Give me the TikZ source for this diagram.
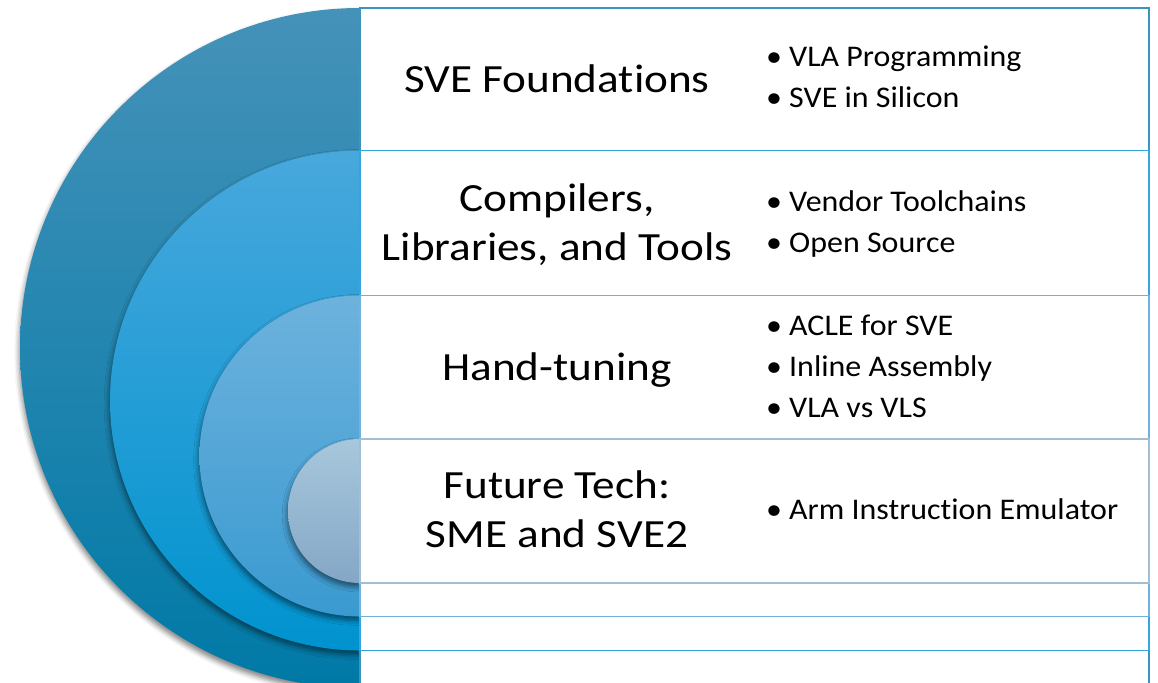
\documentclass[tikz,border=0pt]{standalone}
\usepackage{fontspec}
\setmainfont{Carlito}[Ligatures=NoCommon]
\newfontfamily\headfont{Carlito}[Ligatures=NoCommon, FakeStretch=1.13]
\newfontfamily\pointfont{Carlito}[Ligatures=NoCommon, FakeStretch=1.065]
\usetikzlibrary{shadows.blur}

% fills of the nested half discs (top / bottom of each gradient)
\definecolor{ringAtop}{HTML}{4592B9}
\definecolor{ringAbot}{HTML}{0079A6}
\definecolor{ringBtop}{HTML}{48A8DC}
\definecolor{ringBbot}{HTML}{0093CF}
\definecolor{ringCtop}{HTML}{6DB2DD}
\definecolor{ringCbot}{HTML}{3A9AD0}
\definecolor{ringDtop}{HTML}{A8C7DC}
\definecolor{ringDbot}{HTML}{84A7C6}
% outlines of the text panels
\definecolor{edgeA}{HTML}{3D93C0}
\definecolor{edgeB}{HTML}{33A6DE}
\definecolor{edgeC}{HTML}{6FB2DA}
\definecolor{edgeD}{HTML}{A3BED4}

\newcommand\cellstack[1]{\begin{tabular}[t]{@{}c@{}}#1\end{tabular}}
\newcommand\itemstack[1]{\begin{tabular}[t]{@{}l@{}}#1\end{tabular}}
\newcommand\bul{\makebox[23pt][l]{•}}

\begin{document}
\begin{tikzpicture}[x=1pt,y=1pt,
  halfdisc/.style={blur shadow={shadow xshift=-0.8pt, shadow yshift=-4pt,
                   shadow blur radius=5pt, shadow opacity=50}},
  panel/.style={fill=white, line width=1.3pt},
  heading/.style={anchor=base, inner sep=0pt, font=\headfont\fontsize{40}{49}\selectfont},
  points/.style={anchor=base west, inner sep=0pt, font=\pointfont\fontsize{30}{41}\selectfont}]
\useasboundingbox (0,0) rectangle (1158,682);
\clip (0,0) rectangle (1158,682);

% nested half discs, largest first
\path[halfdisc, top color=ringAtop, bottom color=ringAbot]
  (360,674) arc[start angle=90, end angle=270, radius=340] -- cycle;
\path[halfdisc, top color=ringBtop, bottom color=ringBbot]
  (360,531.5) arc[start angle=90, end angle=270, radius=250] -- cycle;
\path[halfdisc, top color=ringCtop, bottom color=ringCbot]
  (360,386.5) arc[start angle=90, end angle=270, radius=160.5] -- cycle;
\path[halfdisc, top color=ringDtop, bottom color=ringDbot]
  (360,243) arc[start angle=90, end angle=270, radius=72] -- cycle;

% nested text panels
\draw[panel, draw=edgeA] (360,674) rectangle (1149,-6);
\draw[panel, draw=edgeB] (360,531.5) rectangle (1149,31.5);
\draw[panel, draw=edgeC] (360,386.5) rectangle (1149,65.5);
\draw[panel, draw=edgeD] (360,243) rectangle (1149,99);

% headings
\node[heading] (h1) at (557,589.3) {\cellstack{SVE Foundations}};
\node[heading] (h2) at (557,470.3) {\cellstack{Compilers,\\Libraries, and Tools}};
\node[heading] (h3) at (557,301.3) {\cellstack{Hand-tuning}};
\node[heading] (h4) at (557,183.7) {\cellstack{Future Tech:\\SME and SVE2}};

% bullet lists
\node[points] (p1) at (766,615.3) {\itemstack{\bul VLA Programming\\\bul SVE in Silicon}};
\node[points] (p2) at (766,470.3) {\itemstack{\bul Vendor Toolchains\\\bul Open Source}};
\node[points] (p3) at (766,346) {\itemstack{\bul ACLE for SVE\\\bul Inline Assembly\\\bul VLA vs VLS}};
\node[points] (p4) at (766,162) {\itemstack{\bul Arm Instruction Emulator}};
\end{tikzpicture}
\end{document}
